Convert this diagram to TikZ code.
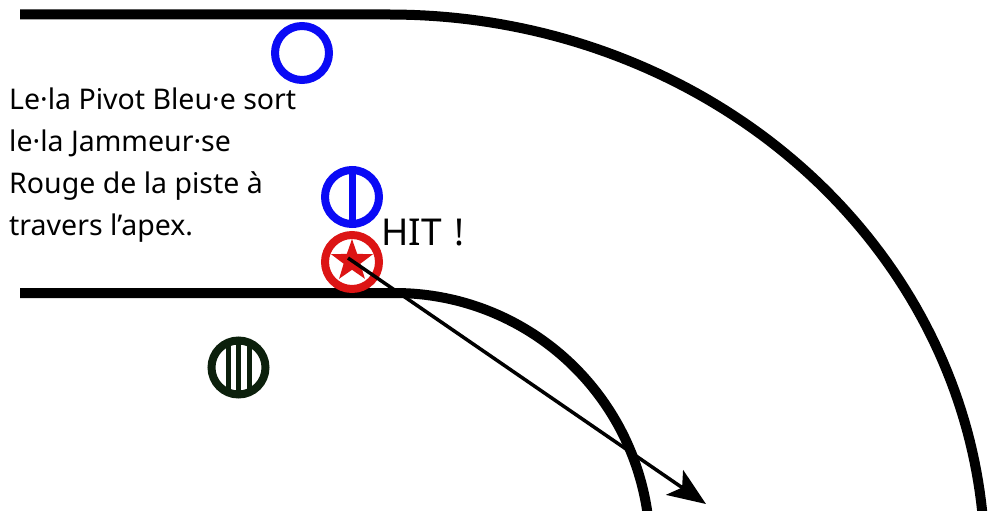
\documentclass[tikz,border=0pt]{standalone}
\usepackage{fontspec}
\setmainfont{Noto Sans}
\usetikzlibrary{shapes.geometric,arrows.meta}
\definecolor{pblue}{RGB}{10,10,245}
\definecolor{jred}{RGB}{220,20,20}
\definecolor{bgreen}{RGB}{12,32,12}
\tikzset{
  track/.style={line width=10pt, black},
  player/.style={circle, line width=8pt, minimum size=54pt, inner sep=0pt},
  captext/.style={font=\fontsize{28.5}{42}\selectfont, align=left, inner sep=0pt, anchor=north west},
}
\begin{document}
\begin{tikzpicture}[x=1pt,y=-1pt]
\useasboundingbox (0,0) rectangle (988,511);
% outer track
\draw[track] (20,14.5) -- (390,14.5)
  -- plot[domain=-90:-5.5, samples=80] ({390+595*cos(\x)}, {564.5+550*sin(\x)});
% inner track
\draw[track] (20,293) -- (395,293)
  -- plot[domain=-90:-7, samples=80] ({395+255*cos(\x)}, {549+256*sin(\x)});
% text
\node[captext] (txt) at (9,88) {Le·la Pivot Bleu·e sort\\le·la Jammeur·se\\Rouge de la piste à\\travers l’apex.};
\node[font=\fontsize{37}{42}\selectfont, anchor=base west, inner sep=0pt] (hit) at (381,245) {HIT\hspace{13pt}!};
% players
\node[player, draw=pblue] (blocker) at (302,53) {};
\node[player, draw=pblue] (pivot) at (352,197) {};
\draw[pblue, line width=7pt] (pivot.north) -- (pivot.south);
\node[player, draw=jred] (jammer) at (352,262) {};
\node[star, star points=5, star point ratio=2.5, fill=jred, minimum size=44pt, inner sep=0pt] (jstar) at (352,261) {};
\node[player, draw=bgreen] (green) at (238.5,367.5) {};
\begin{scope}
  \clip (green.center) circle[radius=27];
  \foreach \dx in {-10.5,0,10.5}
    \draw[bgreen, line width=5pt] ([xshift=\dx pt]green.north) -- ([xshift=\dx pt]green.south);
\end{scope}
% arrow
\coordinate (hitend) at (706,504);
\draw[line width=3.5pt, -{Stealth[length=38pt, width=30pt, inset=9pt]}] (348,258) -- (hitend);
\end{tikzpicture}
\end{document}
